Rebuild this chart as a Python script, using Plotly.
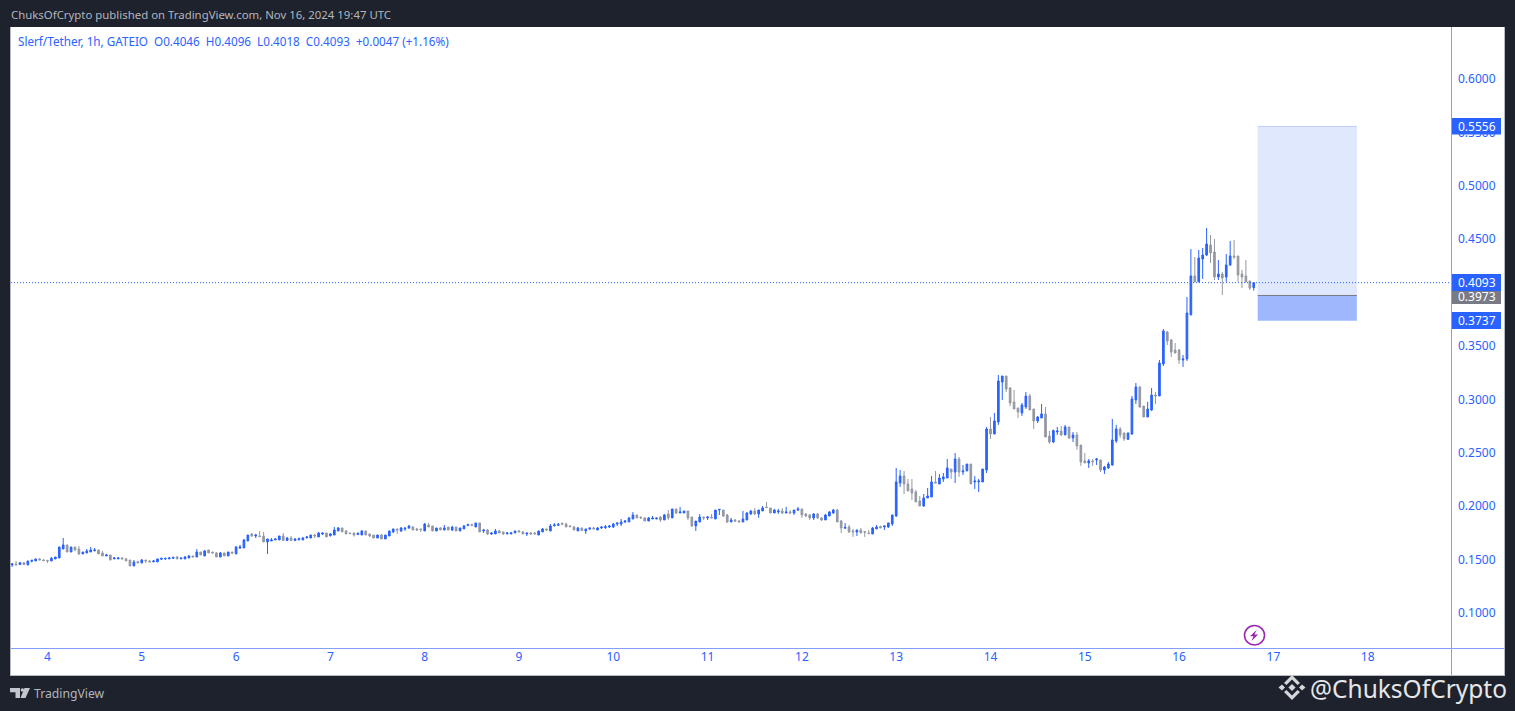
import pandas as pd
import plotly.graph_objects as go

# Hourly candles of Slerf/Tether
first_candle = "2024-11-03 15:00"

opens = [
.1450,.1459,.1453,.1471,.1450,.1484,.1487,.1506,.1496,.1493,
.1487,.1506,.1515,.1599,.1637,.1571,.1618,.1599,.1553,.1562,
.1571,.1581,.1590,.1562,.1534,.1543,.1506,.1506,.1515,.1506,
.1496,.1440,.1481,.1468,.1496,.1487,.1478,.1478,.1503,.1506,
.1506,.1512,.1524,.1506,.1506,.1515,.1534,.1524,.1571,.1534,
.1590,.1571,.1562,.1524,.1562,.1534,.1571,.1553,.1609,.1609,
.1674,.1740,.1721,.1721,.1721,.1665,.1674,.1684,.1684,.1721,
.1678,.1702,.1678,.1687,.1684,.1702,.1702,.1730,.1712,.1740,
.1749,.1724,.1730,.1768,.1796,.1768,.1749,.1749,.1734,.1730,
.1768,.1740,.1730,.1702,.1730,.1693,.1721,.1759,.1787,.1768,
.1787,.1796,.1805,.1787,.1787,.1768,.1824,.1815,.1768,.1796,
.1777,.1805,.1777,.1805,.1768,.1787,.1818,.1827,.1805,.1843,
.1768,.1777,.1740,.1740,.1768,.1759,.1740,.1740,.1749,.1768,
.1759,.1740,.1749,.1749,.1730,.1759,.1787,.1768,.1815,.1821,
.1840,.1833,.1815,.1805,.1768,.1796,.1768,.1787,.1796,.1777,
.1796,.1799,.1805,.1805,.1833,.1833,.1852,.1852,.1880,.1918,
.1899,.1890,.1861,.1880,.1880,.1899,.1871,.1927,.1890,.1974,
.1936,.1936,.1955,.1899,.1815,.1852,.1899,.1890,.1899,.1880,
.1964,.1964,.1918,.1852,.1871,.1861,.1852,.1871,.1927,.1955,
.1927,.1955,.1993,.1983,.1936,.1946,.1955,.1936,.1946,.1936,
.1964,.1974,.1927,.1918,.1890,.1927,.1890,.1871,.1908,.1936,.1964,
.1862,.1793,.1806,.1768,.1759,.1777,.1762,.1749,.1740,
.1787,.1809,.1806,.1806,.1834,.1909,.2217,.2283,.2208,.2161,
.2133,.2049,.2002,.2077,.2086,.2227,.2208,.2255,.2264,.2348,
.2320,.2442,.2320,.2330,.2395,.2227,.2227,.2227,.2339,.2723,
.2676,.2789,.3163,.3219,.3107,.2976,.2920,.2873,.2929,.3032,
.2910,.2798,.2826,.2864,.2657,.2601,.2695,.2704,.2667,.2742,
.2639,.2667,.2573,.2424,.2405,.2424,.2433,.2433,.2339,.2358,
.2386,.2611,.2723,.2686,.2626,.2676,.2995,.3116,.2938,.2835,
.2901,.3041,.3032,.3332,.3631,.3556,.3462,.3462,.3369,.3379,
.3791,.4156,.4100,.4315,.4352,.4446,.4380,.4146,.4174,.4146,
.4259,.4343,.4343,.4174,.4156,.4109,.4046,
]

highs = [
.1468,.1487,.1471,.1471,.1487,.1493,.1506,.1515,.1506,.1493,
.1524,.1524,.1618,.1702,.1637,.1618,.1618,.1627,.1571,.1599,
.1618,.1609,.1590,.1581,.1553,.1543,.1524,.1524,.1524,.1515,
.1496,.1496,.1487,.1506,.1496,.1496,.1496,.1506,.1512,.1512,
.1524,.1521,.1534,.1515,.1534,.1543,.1534,.1599,.1571,.1590,
.1590,.1571,.1571,.1571,.1562,.1571,.1571,.1627,.1637,.1693,
.1730,.1749,.1740,.1768,.1759,.1693,.1702,.1702,.1721,.1749,
.1712,.1721,.1702,.1705,.1712,.1721,.1730,.1740,.1759,.1749,
.1749,.1749,.1805,.1805,.1796,.1777,.1749,.1749,.1755,.1777,
.1768,.1740,.1730,.1730,.1740,.1730,.1768,.1787,.1787,.1805,
.1796,.1824,.1815,.1796,.1787,.1843,.1843,.1815,.1796,.1805,
.1824,.1805,.1815,.1805,.1796,.1824,.1836,.1836,.1843,.1843,
.1787,.1787,.1759,.1787,.1777,.1759,.1759,.1759,.1768,.1777,
.1768,.1749,.1759,.1759,.1768,.1796,.1787,.1833,.1843,.1843,
.1846,.1846,.1824,.1815,.1805,.1796,.1787,.1796,.1805,.1805,
.1815,.1824,.1824,.1843,.1843,.1880,.1871,.1899,.1946,.1918,
.1899,.1899,.1899,.1908,.1890,.1908,.1927,.1964,.1974,.1974,
.1993,.1955,.1955,.1899,.1861,.1927,.1899,.1908,.1927,.1964,
.1974,.1964,.1927,.1890,.1880,.1871,.1955,.1946,.1964,.1983,
.1964,.2002,.2039,.1983,.1974,.1974,.1983,.1993,.1964,.1964,
.1993,.1974,.1936,.1927,.1936,.1936,.1899,.1927,.1955,.1974,.1974,
.1871,.1843,.1824,.1787,.1777,.1796,.1768,.1777,.1806,
.1824,.1818,.1815,.1843,.1918,.2358,.2339,.2330,.2255,.2255,
.2152,.2096,.2114,.2170,.2283,.2330,.2302,.2311,.2442,.2348,
.2498,.2461,.2386,.2395,.2395,.2283,.2255,.2348,.2742,.2835,
.2873,.3228,.3219,.3219,.3116,.3088,.2920,.2966,.3069,.3051,
.2910,.2845,.2957,.2929,.2704,.2717,.2742,.2751,.2761,.2742,
.2695,.2695,.2573,.2498,.2442,.2442,.2452,.2433,.2377,.2414,
.2817,.2761,.2742,.2686,.2686,.3032,.3154,.3126,.2938,.2976,
.3107,.3070,.3369,.3659,.3640,.3566,.3528,.3472,.3416,.3959,
.4408,.4333,.4399,.4418,.4605,.4539,.4502,.4305,.4193,.4361,
.4483,.4493,.4343,.4212,.4305,.4109,.4096,
]

lows = [
.1431,.1450,.1453,.1453,.1450,.1474,.1487,.1496,.1490,.1468,
.1487,.1506,.1515,.1599,.1571,.1571,.1581,.1543,.1553,.1562,
.1571,.1581,.1553,.1534,.1534,.1496,.1506,.1506,.1506,.1487,
.1440,.1440,.1468,.1468,.1468,.1478,.1478,.1478,.1496,.1496,
.1506,.1506,.1506,.1506,.1506,.1515,.1524,.1524,.1543,.1534,
.1562,.1562,.1524,.1524,.1534,.1534,.1553,.1553,.1599,.1609,
.1674,.1712,.1702,.1715,.1665,.1553,.1674,.1684,.1684,.1678,
.1678,.1678,.1678,.1678,.1684,.1702,.1702,.1702,.1712,.1730,
.1712,.1715,.1730,.1768,.1759,.1740,.1743,.1715,.1734,.1730,
.1730,.1712,.1702,.1702,.1693,.1693,.1721,.1749,.1740,.1759,
.1768,.1787,.1777,.1768,.1759,.1768,.1805,.1768,.1768,.1777,
.1777,.1777,.1768,.1768,.1768,.1787,.1818,.1818,.1805,.1759,
.1749,.1730,.1730,.1740,.1749,.1730,.1740,.1740,.1749,.1759,
.1740,.1721,.1730,.1740,.1730,.1759,.1768,.1768,.1815,.1815,
.1830,.1805,.1808,.1777,.1768,.1771,.1740,.1777,.1787,.1777,
.1787,.1787,.1796,.1796,.1815,.1815,.1843,.1852,.1880,.1890,
.1880,.1861,.1861,.1880,.1880,.1852,.1871,.1871,.1890,.1927,
.1936,.1936,.1871,.1805,.1768,.1852,.1871,.1871,.1890,.1880,
.1918,.1899,.1843,.1852,.1852,.1852,.1852,.1871,.1918,.1918,
.1890,.1955,.1987,.1936,.1936,.1927,.1927,.1936,.1927,.1918,
.1955,.1890,.1899,.1871,.1871,.1880,.1861,.1871,.1908,.1927,.1852,
.1749,.1793,.1749,.1712,.1721,.1749,.1712,.1743,.1740,
.1787,.1796,.1777,.1796,.1815,.1899,.2180,.2114,.2142,.2058,
.2040,.2002,.1992,.2077,.2086,.2217,.2208,.2227,.2264,.2255,
.2217,.2274,.2292,.2330,.2208,.2161,.2133,.2227,.2311,.2629,
.2676,.2761,.2994,.3069,.2938,.2910,.2826,.2845,.2910,.2901,
.2723,.2779,.2826,.2648,.2583,.2592,.2667,.2657,.2667,.2629,
.2601,.2527,.2377,.2405,.2358,.2377,.2386,.2320,.2302,.2349,
.2377,.2592,.2639,.2611,.2620,.2667,.2957,.2920,.2835,.2835,
.2892,.2957,.3032,.3313,.3509,.3397,.3434,.3332,.3304,.3360,
.3791,.4100,.4100,.4128,.4343,.4277,.4118,.4118,.3978,.4100,
.4249,.4315,.4100,.4043,.4100,.4025,.4018,
]

closes = [
.1459,.1450,.1471,.1453,.1487,.1493,.1506,.1496,.1490,.1487,
.1512,.1524,.1618,.1637,.1571,.1618,.1590,.1553,.1571,.1581,
.1590,.1590,.1553,.1534,.1543,.1496,.1515,.1515,.1506,.1487,
.1440,.1478,.1468,.1496,.1487,.1478,.1487,.1506,.1512,.1512,
.1515,.1521,.1506,.1515,.1524,.1534,.1524,.1571,.1543,.1581,
.1562,.1562,.1524,.1562,.1534,.1571,.1562,.1618,.1618,.1684,
.1730,.1721,.1730,.1715,.1665,.1693,.1684,.1693,.1721,.1678,
.1702,.1678,.1693,.1696,.1702,.1712,.1730,.1721,.1749,.1749,
.1712,.1740,.1777,.1796,.1759,.1740,.1743,.1730,.1746,.1768,
.1730,.1721,.1702,.1730,.1693,.1730,.1768,.1787,.1777,.1796,
.1796,.1815,.1777,.1777,.1780,.1833,.1805,.1768,.1796,.1777,
.1796,.1777,.1805,.1768,.1796,.1815,.1827,.1818,.1843,.1759,
.1777,.1740,.1749,.1768,.1749,.1740,.1749,.1749,.1768,.1759,
.1740,.1749,.1740,.1740,.1768,.1787,.1777,.1815,.1824,.1830,
.1830,.1805,.1808,.1777,.1796,.1771,.1787,.1796,.1787,.1796,
.1805,.1808,.1815,.1833,.1843,.1852,.1861,.1890,.1918,.1890,
.1890,.1861,.1890,.1890,.1890,.1871,.1918,.1890,.1974,.1936,
.1946,.1955,.1890,.1815,.1861,.1899,.1890,.1899,.1890,.1964,
.1970,.1908,.1852,.1871,.1861,.1852,.1880,.1936,.1955,.1927,
.1964,.1983,.1987,.1936,.1964,.1955,.1936,.1946,.1936,.1964,
.1974,.1918,.1908,.1890,.1927,.1890,.1871,.1918,.1946,.1964,.1852,
.1796,.1802,.1759,.1759,.1777,.1749,.1756,.1743,.1796,
.1806,.1796,.1815,.1843,.1918,.2227,.2283,.2208,.2142,.2124,
.2040,.2002,.2077,.2096,.2227,.2217,.2264,.2274,.2358,.2320,
.2442,.2320,.2330,.2395,.2208,.2236,.2236,.2348,.2723,.2676,
.2798,.3172,.3219,.3097,.2966,.2910,.2882,.2948,.3032,.2901,
.2798,.2835,.2864,.2648,.2601,.2708,.2704,.2667,.2742,.2639,
.2667,.2564,.2414,.2405,.2424,.2417,.2442,.2339,.2367,.2395,
.2620,.2723,.2667,.2630,.2686,.3004,.3116,.2929,.2835,.2910,
.3041,.3032,.3341,.3640,.3547,.3444,.3434,.3369,.3378,.3809,
.4156,.4100,.4324,.4352,.4455,.4371,.4146,.4174,.4137,.4259,
.4343,.4333,.4165,.4146,.4100,.4043,.4093,
]

price_ticks = [0.10, 0.15, 0.20, 0.25, 0.30, 0.35, 0.40, 0.45, 0.50, 0.55, 0.60]
day_ticks = ["2024-11-%02d" % d for d in range(4, 19)]
day_labels = [str(d) for d in range(4, 19)]

take_profit = 0.5556
entry = 0.3973
stop_loss = 0.3737
last_price = 0.4093
position_start = "2024-11-16 20:00"
position_end = "2024-11-17 21:15"

W, H = 1515, 711
L, R, T, B = 11, 1451, 27, 648
BLUE = "#2962ff"
GRAY = "#9598a1"
AXIS = "#82a0fb"
DARK = "#1e222d"
EDGE = "#b8bac2"
FONT = "Noto Sans"


def px(x):
    return (x - L) / (R - L)


def py(y):
    return (B - y) / (B - T)


def paper_path(points):
    return "M" + " L".join(f"{px(a):.5f},{py(b):.5f}" for a, b in points) + " Z"


fig = go.Figure(go.Candlestick(
    x=pd.date_range(first_candle, periods=len(closes), freq="h"),
    open=opens, high=highs, low=lows, close=closes,
    increasing=dict(line=dict(color=BLUE, width=1), fillcolor=BLUE),
    decreasing=dict(line=dict(color=GRAY, width=1), fillcolor=GRAY),
    whiskerwidth=0,
    showlegend=False,
))

shapes = []


def rect_px(x0, y0, x1, y1, fill):
    shapes.append(dict(type="rect", xref="paper", yref="paper",
                       x0=px(x0), x1=px(x1), y0=py(y0), y1=py(y1),
                       fillcolor=fill, layer="above", line=dict(width=0)))


def line_px(x0, y0, x1, y1, color, width=1):
    shapes.append(dict(type="line", xref="paper", yref="paper", layer="above",
                       x0=px(x0), x1=px(x1), y0=py(y0), y1=py(y1),
                       line=dict(color=color, width=width)))


def poly_px(points, color):
    shapes.append(dict(type="path", xref="paper", yref="paper", layer="above",
                       path=paper_path(points), fillcolor=color,
                       line=dict(width=0)))


# dark surround of the white chart frame
rect_px(0, 0, 1515, 27, DARK)
rect_px(0, 676, 1515, 711, DARK)
rect_px(0, 0, 10, 711, DARK)
rect_px(1505, 0, 1515, 711, DARK)
line_px(10.5, 27, 10.5, 676, EDGE)
line_px(1504.5, 27, 1504.5, 676, EDGE)
line_px(10, 675.5, 1505, 675.5, EDGE)

# long position box
shapes += [
    dict(type="rect", xref="x", yref="y", x0=position_start, x1=position_end,
         y0=entry, y1=take_profit, fillcolor="#dfe8fd", line=dict(width=0), layer="above"),
    dict(type="rect", xref="x", yref="y", x0=position_start, x1=position_end,
         y0=stop_loss, y1=entry, fillcolor="#9fb8fd", line=dict(width=0), layer="above"),
    dict(type="line", xref="x", yref="y", x0=position_start, x1=position_end,
         y0=take_profit, y1=take_profit, line=dict(color="#bccdfd", width=1), layer="above"),
    dict(type="line", xref="x", yref="y", x0=position_start, x1=position_end,
         y0=entry, y1=entry, line=dict(color="#787b86", width=1), layer="above"),
    dict(type="line", xref="paper", yref="y", x0=0, x1=1,
         y0=last_price, y1=last_price,
         line=dict(color=BLUE, width=1, dash="1px,2px"), layer="above"),
]

# axis lines reaching the frame
line_px(1451.5, 27, 1451.5, 675, AXIS)
line_px(11, 648.5, 1504, 648.5, AXIS)

# price labels on the axis
rect_px(1452, 118, 1501, 134.5, BLUE)
rect_px(1452, 274, 1501, 291, BLUE)
rect_px(1452, 291, 1501, 304, "#787b86")
rect_px(1452, 312, 1501, 329, BLUE)

# lightning marker
shapes.append(dict(type="circle", xref="paper", yref="paper", layer="above",
                   x0=px(1244.5), x1=px(1264.5), y0=py(645), y1=py(625.5),
                   line=dict(color="#9c27b0", width=1.6), fillcolor="#ffffff"))
poly_px([(1256.5, 630), (1250, 636.2), (1253.4, 636.2), (1251.5, 641), (1258.2, 634.4), (1254.6, 634.4)], "#9c27b0")

# TradingView logo
LOGO = "#c3c5cc"
poly_px([(10, 688), (20, 688), (20, 698), (15.5, 698), (15.5, 692.2), (10, 692.2)], LOGO)
poly_px([(24.5, 688), (30, 688), (25.5, 698), (20.5, 698)], LOGO)
shapes.append(dict(type="circle", xref="paper", yref="paper", layer="above",
                   x0=px(20.6), x1=px(24.2), y0=py(691.8), y1=py(688.2),
                   fillcolor=LOGO, line=dict(width=0)))

# exchange logo beside the watermark
COIN = "#d6d7da"
cx, cy = 1292, 687.5
poly_px([(cx, cy - 3.6), (cx + 3.6, cy), (cx, cy + 3.6), (cx - 3.6, cy)], COIN)
poly_px([(cx - 10, cy - 3), (cx - 7, cy), (cx - 10, cy + 3), (cx - 13.5, cy)], COIN)
poly_px([(cx + 10, cy - 3), (cx + 13.5, cy), (cx + 10, cy + 3), (cx + 7, cy)], COIN)
poly_px([(cx, cy - 12.5), (cx + 8, cy - 4.5), (cx + 5.5, cy - 2.5), (cx, cy - 8), (cx - 5.5, cy - 2.5), (cx - 8, cy - 4.5)], COIN)
poly_px([(cx, cy + 12.5), (cx + 8, cy + 4.5), (cx + 5.5, cy + 2.5), (cx, cy + 8), (cx - 5.5, cy + 2.5), (cx - 8, cy + 4.5)], COIN)


def label(text, x, y, color, size, anchor="left", font=FONT):
    return dict(text=text, xref="paper", yref="paper", x=px(x), y=py(y),
                xanchor=anchor, yanchor="middle", showarrow=False,
                font=dict(color=color, size=size, family=font), borderpad=0)


annotations = [
    label("ChuksOfCrypto published on TradingView.com, Nov 16, 2024 19:47 UTC", 10, 14.5, "#b2b5be", 11.4),
    label("Slerf/Tether, 1h, GATEIO\u00a0\u00a0O0.4046\u00a0\u00a0H0.4096\u00a0\u00a0L0.4018\u00a0\u00a0C0.4093\u00a0\u00a0+0.0047 (+1.16%)",
          17, 41.5, BLUE, 11.7),
    label("TradingView", 33, 693, "#b2b5be", 12.2),
    label("@ChuksOfCrypto", 1309, 688, "#e6e6e8", 24.5),
    label("%.4f" % take_profit, 1476.5, 126.5, "#ffffff", 12, "center"),
    label("%.4f" % last_price, 1476.5, 282.5, "#ffffff", 12, "center"),
    label("%.4f" % entry, 1476.5, 296.5, "#ffffff", 12, "center"),
    label("%.4f" % stop_loss, 1476.5, 320.5, "#ffffff", 12, "center"),
]

fig.update_layout(
    width=W, height=H, autosize=False,
    margin=dict(l=L, r=W - R, t=T, b=H - B, pad=0),
    paper_bgcolor="#ffffff", plot_bgcolor="#ffffff",
    boxgap=0.4,
    showlegend=False,
    shapes=shapes,
    annotations=annotations,
    font=dict(family=FONT, color=BLUE, size=12),
    xaxis=dict(
        type="date", range=["2024-11-03 14:43", "2024-11-18 21:12"],
        tickmode="array", tickvals=day_ticks, ticktext=day_labels,
        showgrid=False, zeroline=False, showline=False, ticks="",
        rangeslider=dict(visible=False), tickfont=dict(color=BLUE, size=12, family=FONT),
    ),
    yaxis=dict(
        side="right", range=[0.0672, 0.6487],
        tickmode="array", tickvals=price_ticks, tickformat=".4f",
        showgrid=False, zeroline=False, showline=False, ticks="",
        ticklabelstandoff=6, tickfont=dict(color=BLUE, size=12, family=FONT),
    ),
)

fig.write_html(
    "out.html",
    config=dict(displayModeBar=False),
    post_script="document.body.style.margin='0';document.body.style.overflow='hidden';",
)
